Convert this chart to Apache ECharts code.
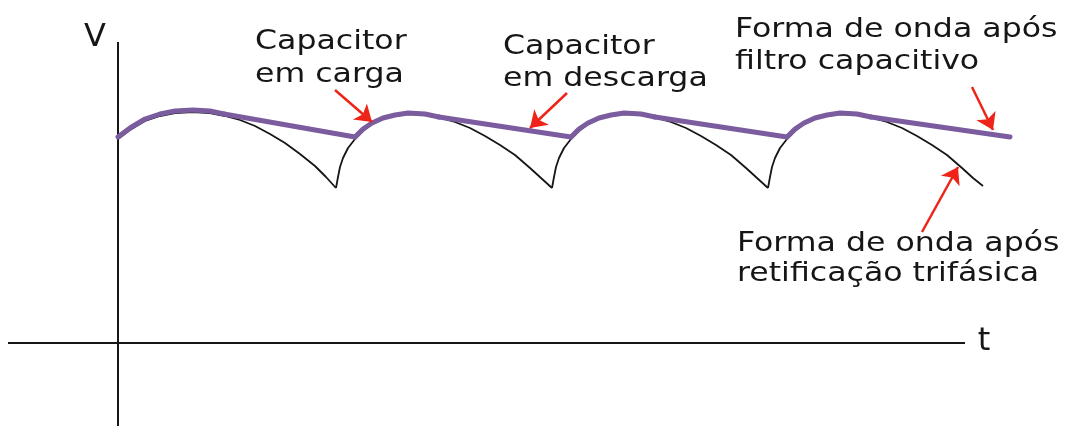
<!DOCTYPE html>
<html>
<head>
<meta charset="utf-8">
<script src="https://cdn.jsdelivr.net/npm/echarts@6/dist/echarts.min.js"></script>
<style>
  html, body { margin: 0; padding: 0; background: #fff; }
  #chart { width: 1089px; height: 426px; }
</style>
</head>
<body>
<div id="chart"></div>
<script>
// onda retificada trifásica (cada arco entre dois "bicos")
const rectArc1 = [[0, 204], [12, 213], [27, 222], [42, 227], [57, 230], [75, 231], [92, 230], [107, 227], [122, 223], [137, 217], [152, 209], [167, 200], [182, 189], [197, 177], [208, 166], [218, 155]];
const rectArc2 = [[218, 155], [220, 166], [222, 176], [225, 185], [230, 195], [237, 204], [245, 212], [254, 219], [265, 224], [277, 227], [290, 229], [307, 228], [322, 225], [337, 221], [352, 215], [367, 207], [382, 198], [397, 188], [412, 175], [423, 165], [434, 155]];
const rectArc3 = [[434, 155], [436, 166], [438, 176], [441, 185], [446, 195], [453, 204], [461, 212], [470, 219], [481, 224], [493, 227], [506, 229], [523, 228], [538, 225], [553, 221], [568, 215], [583, 207], [598, 198], [613, 188], [628, 175], [639, 165], [650, 155]];
const rectArc4 = [[650, 155], [652, 166], [654, 176], [657, 185], [662, 195], [669, 204], [677, 212], [686, 219], [697, 224], [709, 227], [722, 229], [739, 228], [754, 225], [769, 221], [784, 215], [799, 207], [814, 198], [829, 188], [844, 175], [855, 165], [865, 157]];

// forma de onda após o filtro: trechos de carga (seguem o arco) + descarga (reta)
const filterCharge1 = [[0, 206], [12, 215], [27, 224], [42, 229], [57, 232], [75, 233], [92, 232], [106, 229]];
const filterCharge2 = [[237, 206], [245, 214], [254, 220], [265, 225], [277, 228], [290, 230], [307, 229], [321, 226]];
const filterCharge3 = [[453, 206], [461, 214], [470, 220], [481, 225], [493, 228], [506, 230], [523, 229], [537, 226]];
const filterCharge4 = [[669, 206], [677, 214], [686, 220], [697, 225], [709, 228], [722, 230], [739, 229], [753, 226]];
const filterEnd = [892, 206];

// setas: [origem, ponta]
const arrowCarga = [[217, 253], [254, 221]];
const arrowDescarga = [[449, 250], [412, 215]];
const arrowFiltro = [[854, 256], [875, 213]];
const arrowRetif = [[804, 111], [840, 176]];

const xAxisLine = [[-110, 0], [847, 0]];
const yAxisLine = [[0, -83], [0, 301]];

const ink = '#161616';
const purple = '#7b5c9f';
const red = '#ee2418';

let myChart = echarts.init(document.getElementById('chart'));

let charges = [filterCharge1, filterCharge2, filterCharge3, filterCharge4];
let series = [];

// eixos
series.push({ type: 'line', data: xAxisLine, symbol: 'none', silent: true,
  lineStyle: { color: ink, width: 2 } });
series.push({ type: 'line', data: yAxisLine, symbol: 'none', silent: true,
  lineStyle: { color: ink, width: 2 } });

// onda retificada
[rectArc1, rectArc2, rectArc3, rectArc4].forEach(arc => {
  series.push({ type: 'line', data: arc, symbol: 'none',
    lineStyle: { color: ink, width: 1.8, join: 'round' } });
});

// filtro capacitivo
charges.forEach((arc, i) => {
  series.push({ type: 'line', data: arc, symbol: 'none',
    lineStyle: { color: purple, width: 5, cap: 'round', join: 'round' } });
  let next = i < charges.length - 1 ? charges[i + 1][0] : filterEnd;
  series.push({ type: 'line', data: [arc[arc.length - 1], next], symbol: 'none',
    lineStyle: { color: purple, width: 5, cap: 'round', join: 'round' } });
});

// setas vermelhas
series.push({
  type: 'line', data: [], symbol: 'none',
  markLine: {
    silent: true,
    symbol: ['none', 'arrow'],
    symbolSize: 16,
    label: { show: false },
    lineStyle: { color: red, width: 2.5, type: 'solid' },
    data: [arrowCarga, arrowDescarga, arrowFiltro, arrowRetif].map(a => [
      { coord: a[0] }, { coord: a[1] }
    ])
  }
});

function label(text, x, y, size, lineHeight) {
  return {
    type: 'text', x: x, y: y, scaleX: 1.17,
    style: { text: text, fill: ink, font: size + 'px "DejaVu Sans"',
      lineHeight: lineHeight, verticalAlign: 'top' }
  };
}

myChart.setOption({
  animation: false,
  grid: { left: 8, right: 0, top: 0, bottom: 0 },
  xAxis: { type: 'value', min: -110, max: 971, show: false },
  yAxis: { type: 'value', min: -83, max: 343, show: false },
  series: series,
  graphic: [
    label('Capacitor\nem carga', 255, 25, 27, 33),
    label('Capacitor\nem descarga', 503, 31, 27, 32),
    label('Forma de onda após\nfiltro capacitivo', 735, 14, 27, 32),
    label('Forma de onda após\nretificação trifásica', 737, 229, 27, 30),
    { type: 'text', x: 95, y: 22, style: { text: 'V', fill: ink,
      font: '32px "DejaVu Sans"', textAlign: 'center', verticalAlign: 'top' } },
    { type: 'text', x: 984, y: 326, style: { text: 't', fill: ink,
      font: '32px "DejaVu Sans"', textAlign: 'center', verticalAlign: 'top' } }
  ]
});
</script>
</body>
</html>
